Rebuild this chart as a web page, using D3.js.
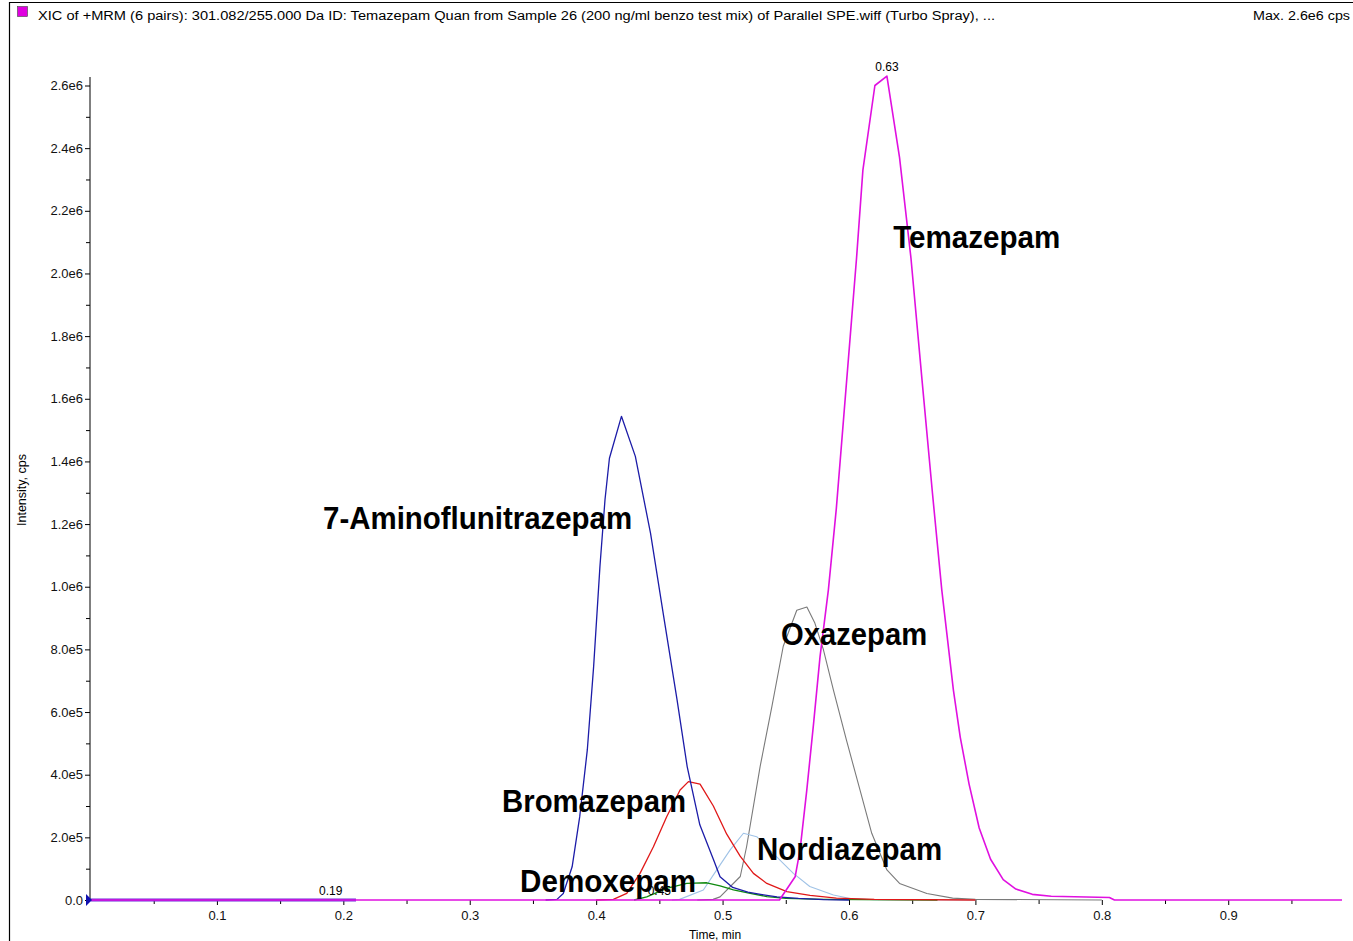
<!DOCTYPE html>
<html>
<head>
<meta charset="utf-8">
<script src="https://cdn.jsdelivr.net/npm/d3@7"></script>
<style>
  body { margin: 0; background: #fff; }
  text { font-family: "Liberation Sans", Arial, sans-serif; }
</style>
</head>
<body>
<div id="chart"></div>
<script>
// XIC traces, time in min, intensity in 1e6 cps
const temazepam = [[0,0],[0.545,0],[0.5574,0.074],[0.5613,0.16],[0.5666,0.35],[0.572,0.564],[0.5771,0.777],[0.5837,0.99],[0.590,1.25],[0.596,1.55],[0.601,1.80],[0.606,2.05],[0.611,2.33],[0.6205,2.60],[0.630,2.63],[0.640,2.37],[0.649,2.05],[0.658,1.65],[0.666,1.30],[0.6734,0.99],[0.6826,0.67],[0.688,0.52],[0.695,0.37],[0.703,0.23],[0.712,0.13],[0.722,0.065],[0.732,0.035],[0.745,0.018],[0.76,0.012],[0.806,0.008],[0.81,0],[0.99,0]];
const aminoflunitrazepam = [[0.360,0],[0.369,0.002],[0.374,0.021],[0.381,0.106],[0.387,0.266],[0.393,0.479],[0.398,0.745],[0.403,1.065],[0.407,1.278],[0.4105,1.41],[0.420,1.544],[0.431,1.416],[0.443,1.171],[0.453,0.916],[0.464,0.639],[0.472,0.426],[0.482,0.24],[0.4927,0.13],[0.498,0.074],[0.508,0.04],[0.52,0.025],[0.53,0.018],[0.543,0.01],[0.56,0.005],[0.58,0.001],[0.60,0]];
const bromazepam = [[0.40,0],[0.4136,0.002],[0.4242,0.021],[0.4347,0.085],[0.4453,0.17],[0.4558,0.266],[0.4664,0.351],[0.473,0.378],[0.4822,0.37],[0.4927,0.30],[0.5033,0.21],[0.5139,0.14],[0.5244,0.085],[0.535,0.053],[0.5508,0.027],[0.5692,0.015],[0.59,0.006],[0.62,0.002],[0.70,0]];
const demoxepam = [[0.43,0],[0.44,0.01],[0.4558,0.037],[0.4717,0.053],[0.4875,0.055],[0.498,0.045],[0.5086,0.032],[0.5218,0.021],[0.535,0.011],[0.55,0.005],[0.58,0.002],[0.67,0]];
const nordiazepam = [[0.46,0],[0.466,0.002],[0.4848,0.032],[0.4954,0.096],[0.506,0.16],[0.5165,0.213],[0.527,0.202],[0.540,0.149],[0.556,0.085],[0.569,0.043],[0.5877,0.016],[0.601,0.005],[0.62,0.001],[0.70,0]];
const oxazepam = [[0.48,0],[0.4925,0.002],[0.498,0.01],[0.514,0.075],[0.519,0.17],[0.5297,0.426],[0.539,0.617],[0.548,0.81],[0.5587,0.925],[0.5667,0.935],[0.573,0.884],[0.5797,0.80],[0.5877,0.67],[0.598,0.51],[0.6088,0.35],[0.618,0.213],[0.630,0.096],[0.640,0.053],[0.6616,0.021],[0.682,0.006],[0.70,0.002],[0.80,0]];
const earlyTrace = [[0,0],[0.21,0]];

const xTicks = [0.1,0.2,0.3,0.4,0.5,0.6,0.7,0.8,0.9];
const xMinorTicks = [0.05,0.15,0.25,0.35,0.45,0.55,0.65,0.75,0.85,0.95];
const yTicks = [0,0.2,0.4,0.6,0.8,1.0,1.2,1.4,1.6,1.8,2.0,2.2,2.4,2.6];
const yTickLabels = ["0.0","2.0e5","4.0e5","6.0e5","8.0e5","1.0e6","1.2e6","1.4e6","1.6e6","1.8e6","2.0e6","2.2e6","2.4e6","2.6e6"];
const yMinorTicks = [0.1,0.3,0.5,0.7,0.9,1.1,1.3,1.5,1.7,1.9,2.1,2.3,2.5];

// apex labels: text, time, intensity at label
const apexLabels = [["0.63",0.63,2.63],["0.19",0.19,0.0],["0.45",0.45,0.0]];
// compound names: text, time at left edge, intensity at baseline, width in px
const compoundLabels = [
    ["Temazepam",0.6350,2.081,167],
    ["7-Aminoflunitrazepam",0.1840,1.185,309],
    ["Oxazepam",0.5463,0.814,146],
    ["Bromazepam",0.3256,0.281,184],
    ["Nordiazepam",0.5273,0.128,185],
    ["Demoxepam",0.3398,0.026,176]
];

const width = 1353, height = 941;
const svg = d3.select("#chart").append("svg")
    .attr("width", width)
    .attr("height", height);

const x = d3.scaleLinear().domain([0, 0.99]).range([90.5, 1342]);
const y = d3.scaleLinear().domain([0, 2.6]).range([900, 85.5]);

// frame
svg.append("path")
    .attr("d", `M9.5,${height} V2.5 H${width}`)
    .attr("fill", "none").attr("stroke", "#000").attr("stroke-width", 1.2);

// header
svg.append("rect").attr("x", 17.5).attr("y", 6.5).attr("width", 10).attr("height", 10)
    .attr("fill", "#e000e0").attr("stroke", "#444").attr("stroke-width", 0.6);
svg.append("text").attr("x", 38).attr("y", 20)
    .attr("font-size", "12.5px")
    .attr("textLength", 957).attr("lengthAdjust", "spacingAndGlyphs")
    .text("XIC of +MRM (6 pairs): 301.082/255.000 Da ID: Temazepam Quan from Sample 26 (200 ng/ml benzo test mix) of Parallel SPE.wiff (Turbo Spray), ...");
svg.append("text").attr("x", 1350).attr("y", 20)
    .attr("font-size", "12.5px").attr("text-anchor", "end")
    .attr("textLength", 97).attr("lengthAdjust", "spacingAndGlyphs")
    .text("Max. 2.6e6 cps");

// y axis
const yAxis = svg.append("g").attr("transform", "translate(90,0)")
    .call(d3.axisLeft(y).tickValues(yTicks).tickSize(5).tickPadding(2)
        .tickFormat((d, i) => yTickLabels[i]));
yAxis.select(".domain").remove();
yAxis.selectAll("text").attr("font-size", "13px").attr("font-family", "Liberation Sans").attr("fill", "#111");
svg.append("g").attr("transform", "translate(90,0)")
    .call(d3.axisLeft(y).tickValues(yMinorTicks).tickSize(4).tickFormat(""))
    .select(".domain").remove();
svg.append("line").attr("x1", 90).attr("x2", 90).attr("y1", 77).attr("y2", 900)
    .attr("stroke", "#000");

// x axis
const xAxis = svg.append("g").attr("transform", "translate(0,900)")
    .call(d3.axisBottom(x).tickValues(xTicks).tickSize(5).tickPadding(6)
        .tickFormat(d3.format(".1f")));
xAxis.select(".domain").remove();
xAxis.selectAll("text").attr("font-size", "13px").attr("font-family", "Liberation Sans").attr("fill", "#111");
svg.append("g").attr("transform", "translate(0,900)")
    .call(d3.axisBottom(x).tickValues(xMinorTicks).tickSize(4).tickFormat(""))
    .select(".domain").remove();

svg.append("text").attr("x", 715).attr("y", 939)
    .attr("font-size", "12px").attr("text-anchor", "middle")
    .text("Time, min");
svg.append("text").attr("transform", "translate(26,490) rotate(-90)")
    .attr("font-size", "12.5px").attr("text-anchor", "middle")
    .text("Intensity, cps");

// traces
const line = d3.line().x(d => x(d[0])).y(d => y(d[1]));
const traces = [
    [earlyTrace, "#6a2cd8", 3],
    [oxazepam, "#7a7a7a", 1.1],
    [nordiazepam, "#9fc2e6", 1.1],
    [demoxepam, "#108a10", 1.3],
    [bromazepam, "#e01818", 1.3],
    [aminoflunitrazepam, "#1c1ca8", 1.3],
    [temazepam, "#e010e0", 1.6]
];
svg.selectAll(".trace")
    .data(traces)
    .enter().append("path")
    .attr("class", "trace")
    .attr("d", d => line(d[0]))
    .attr("fill", "none")
    .attr("stroke", d => d[1])
    .attr("stroke-width", d => d[2])
    .attr("stroke-linejoin", "round");

// marker at origin
svg.append("path")
    .attr("d", "M86,894 L92,900 L86,906 Z")
    .attr("fill", "#1010b0");

// apex time labels
svg.selectAll(".apex")
    .data(apexLabels)
    .enter().append("text")
    .attr("class", "apex")
    .attr("x", d => x(d[1]))
    .attr("y", d => y(d[2]) - 5)
    .attr("text-anchor", "middle")
    .attr("font-size", "12px")
    .text(d => d[0]);

// compound names
svg.selectAll(".compound")
    .data(compoundLabels)
    .enter().append("text")
    .attr("class", "compound")
    .attr("x", d => x(d[1]))
    .attr("y", d => y(d[2]))
    .attr("font-size", "32px")
    .attr("font-weight", "bold")
    .attr("textLength", d => d[3])
    .attr("lengthAdjust", "spacingAndGlyphs")
    .text(d => d[0]);
</script>
</body>
</html>
